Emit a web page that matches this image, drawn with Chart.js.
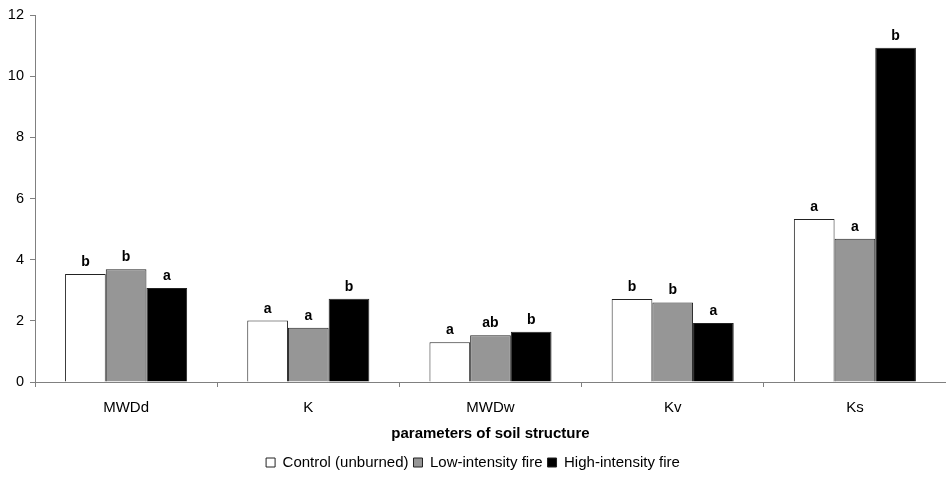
<!DOCTYPE html>
<html>
<head>
<meta charset="utf-8">
<script src="https://cdn.jsdelivr.net/npm/chart.js@4"></script>
<style>
html,body{margin:0;padding:0;background:#fff;}
#wrap{width:946px;height:481px;position:relative;}
</style>
</head>
<body>
<div id="wrap"><canvas id="c"></canvas></div>
<script>
const categories = ["MWDd", "K", "MWDw", "Kv", "Ks"];
const seriesNames = ["Control (unburned)", "Low-intensity fire", "High-intensity fire"];
const control = [3.53, 2.01, 1.30, 2.71, 5.33];
const lowFire = [3.69, 1.77, 1.53, 2.60, 4.68];
const highFire = [3.07, 2.72, 1.64, 1.93, 10.93];
const controlLetters = ["b", "a", "a", "b", "a"];
const lowLetters = ["b", "a", "ab", "b", "a"];
const highLetters = ["a", "b", "b", "a", "b"];
const yTicks = [0, 2, 4, 6, 8, 10, 12];
const xTitle = "parameters of soil structure";

const FONT = "'Liberation Sans', Arial, sans-serif";
const letterSets = [controlLetters, lowLetters, highLetters];

const letterPlugin = {
  id: 'letters',
  afterDatasetsDraw(chart) {
    const ctx = chart.ctx;
    ctx.save();
    ctx.font = "bold 14px " + FONT;
    ctx.fillStyle = "#000";
    ctx.textAlign = "center";
    ctx.textBaseline = "alphabetic";
    chart.data.datasets.forEach((ds, i) => {
      const meta = chart.getDatasetMeta(i);
      meta.data.forEach((bar, j) => {
        ctx.fillText(letterSets[i][j], bar.x, bar.y - 8);
      });
    });
    ctx.restore();
  }
};

new Chart(document.getElementById('c'), {
  type: 'bar',
  data: {
    labels: categories,
    datasets: [
      {label: seriesNames[0], data: control, backgroundColor: "#ffffff", borderColor: "#222222", borderWidth: 1},
      {label: seriesNames[1], data: lowFire, backgroundColor: "#969696", borderColor: "#222222", borderWidth: 1},
      {label: seriesNames[2], data: highFire, backgroundColor: "#000000", borderColor: "#222222", borderWidth: 1}
    ]
  },
  options: {
    responsive: true,
    maintainAspectRatio: false,
    animation: false,
    devicePixelRatio: 1,
    layout: {padding: {top: 15, right: 0, left: 0, bottom: 1}},
    datasets: {bar: {categoryPercentage: 0.67, barPercentage: 1.0}},
    plugins: {
      tooltip: {enabled: false},
      legend: {
        position: 'bottom',
        labels: {
          font: {family: FONT, size: 15},
          color: "#000",
          boxWidth: 9,
          boxHeight: 9,
          padding: 5
        }
      }
    },
    scales: {
      x: {
        afterFit(scale) { scale.height = 68; },
        grid: {display: true, drawOnChartArea: false, offset: true, tickLength: 5, color: "#808080"},
        border: {color: "#808080"},
        ticks: {font: {family: FONT, size: 15}, color: "#000", padding: 12},
        title: {display: true, text: xTitle, font: {family: FONT, size: 15, weight: 'bold'}, color: "#000", padding: {top: 0, bottom: 7}}
      },
      y: {
        min: 0, max: 12,
        afterBuildTicks(scale) { scale.ticks = yTicks.map(v => ({value: v})); },
        afterFit(scale) { scale.width = 35; },
        grid: {display: true, drawOnChartArea: false, tickLength: 5, color: "#808080"},
        border: {color: "#808080"},
        ticks: {font: {family: FONT, size: 14.5}, color: "#000", padding: 6}
      }
    }
  },
  plugins: [letterPlugin]
});
</script>
</body>
</html>
